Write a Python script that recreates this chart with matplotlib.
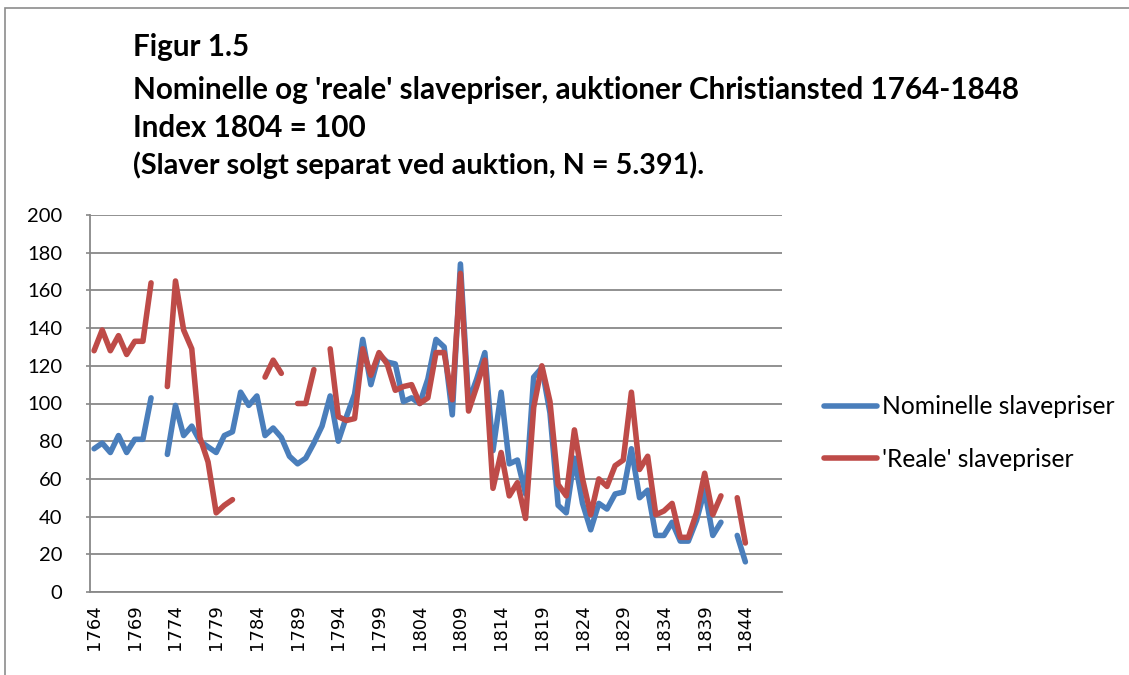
import numpy as np
import matplotlib.pyplot as plt
from matplotlib.patches import Rectangle

nan = np.nan

# kategorier: auktionsår 1764-1848
years = list(range(1764, 1849))

# Nominelle slavepriser (index 1804 = 100)
nominal = [
    76, 79, 74, 83, 74, 81, 81, 103, nan, 73,      # 1764-1773
    99, 83, 88, 80, 77, 74, 83, 85, 106, 99,       # 1774-1783
    104, 83, 87, 82, 72, 68, 71, 79, 88, 104,      # 1784-1793
    80, 93, 105, 134, 110, 126, 122, 121, 101, 103,  # 1794-1803
    100, 113, 134, 130, 94, 174, 101, 113, 127, 75,  # 1804-1813
    106, 68, 70, 52, 114, 119, 95, 46, 42, 71,     # 1814-1823
    47, 33, 47, 44, 52, 53, 76, 50, 54, 30,        # 1824-1833
    30, 37, 27, 27, 38, 54, 30, 37, nan, 30,       # 1834-1843
    16, nan, nan, nan, nan,                        # 1844-1848
]

# 'Reale' slavepriser (index 1804 = 100)
real = [
    128, 139, 128, 136, 126, 133, 133, 164, nan, 109,   # 1764-1773
    165, 139, 129, 82, 69, 42, 46, 49, nan, nan,        # 1774-1783
    nan, 114, 123, 116, nan, 100, 100, 118, nan, 129,   # 1784-1793
    93, 91, 92, 129, 115, 127, 121, 107, 109, 110,      # 1794-1803
    100, 103, 127, 127, 102, 169, 96, 109, 123, 55,     # 1804-1813
    74, 51, 58, 39, 98, 120, 101, 57, 51, 86,           # 1814-1823
    60, 41, 60, 56, 67, 70, 106, 65, 72, 41,            # 1824-1833
    43, 47, 29, 29, 42, 63, 41, 51, nan, 50,            # 1834-1843
    26, nan, nan, nan, nan,                             # 1844-1848
]

title_lines = [
    "Figur 1.5",
    "Nominelle og 'reale' slavepriser, auktioner Christiansted 1764-1848",
    "Index 1804 = 100",
]
subtitle = "(Slaver solgt separat ved auktion, N = 5.391)."

blue = '#4A7EBB'
red = '#BE4B48'
grid_col = '#888888'

plt.rcParams['font.family'] = ['Lato', 'DejaVu Sans']

fig = plt.figure(figsize=(11.29, 6.75), dpi=100)
W, H = 1129, 675

# ramme rundt om diagramområdet
fig.add_artist(Rectangle((5 / W, -0.1), 2, 1 - 8 / H + 0.1, transform=fig.transFigure,
                         fill=False, edgecolor='#8c8c8c', lw=1.2))

ax = fig.add_axes([90 / W, 1 - 592 / H, (782 - 90) / W, (592 - 215) / H])

x = np.arange(len(years))
ax.plot(x, nominal, color=blue, lw=4, solid_joinstyle='round', solid_capstyle='round',
        label='Nominelle slavepriser', zorder=3)
ax.plot(x, real, color=red, lw=4, solid_joinstyle='round', solid_capstyle='round',
        label="'Reale' slavepriser", zorder=4)

ax.set_xlim(-0.5, len(years) - 0.5)
ax.set_ylim(0, 200)
ax.set_yticks(range(0, 201, 20))
ax.yaxis.grid(True, color=grid_col, lw=1.3)
ax.set_axisbelow(True)

ax.set_xticks(x[::5])
ax.set_xticklabels([str(y) for y in years[::5]], rotation=90, family='DejaVu Sans',
                   fontsize=13)
ax.tick_params(axis='x', length=0, pad=9)
ax.tick_params(axis='y', length=3, width=1.2, color=grid_col, labelsize=14.5, pad=17)

for s in ['top', 'right']:
    ax.spines[s].set_visible(False)
for s in ['left', 'bottom']:
    ax.spines[s].set_color(grid_col)
    ax.spines[s].set_linewidth(1.3)

# titel
ys = [47, 90, 128]
for t, yy in zip(title_lines, ys):
    fig.text(133 / W, 1 - yy / H, t, fontsize=21.3, fontweight='bold', va='center', ha='left')
fig.text(133 / W, 1 - 165 / H, subtitle, fontsize=20.7, fontweight='bold', va='center', ha='left')

fig.legend(loc='center left', bbox_to_anchor=(802 / W, 1 - 433 / H), frameon=False,
           fontsize=17.7, handlelength=2.15, handletextpad=0.2, labelspacing=1.2)

fig.savefig('out.png', dpi=100)
plt.close(fig)
